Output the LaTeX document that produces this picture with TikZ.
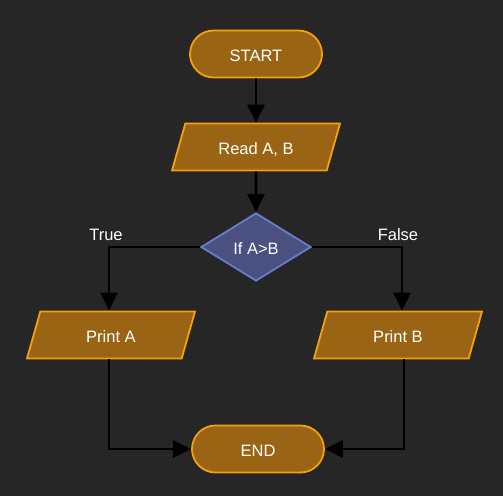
\documentclass[tikz,border=0pt]{standalone}
\usepackage{fontspec}
\setmainfont{Liberation Sans}
\usetikzlibrary{shapes.geometric,arrows.meta}
\definecolor{bg}{HTML}{262626}
\definecolor{procfill}{HTML}{996515}
\definecolor{procline}{HTML}{F5A00F}
\definecolor{decfill}{HTML}{4A5080}
\definecolor{decline}{HTML}{6A7CD0}
\tikzset{
  txt/.style={text=white, font=\fontsize{16.5pt}{19pt}\selectfont},
  shp/.style={txt, text height=15.5pt, text depth=0pt},
  term/.style={shp, draw=procline, fill=procfill, line width=1.8pt, rounded corners=23.5pt,
    minimum width=132pt, minimum height=47pt},
  io/.style={shp, draw=procline, fill=procfill, line width=1.8pt, trapezium, trapezium left angle=59,
    trapezium right angle=121, minimum height=47pt, minimum width=168pt, trapezium stretches body,
    inner xsep=2pt},
  dec/.style={shp, draw=decline, fill=decfill, line width=1.8pt, diamond, minimum width=110pt,
    minimum height=68pt, inner sep=0pt, aspect=1.6},
  conn/.style={line width=2.6pt, draw=black, -{Triangle[length=18pt,width=17pt]}},
  lbl/.style={txt}
}
\begin{document}
\begin{tikzpicture}[x=1pt,y=-1pt]
\fill[bg] (0,0) rectangle (503,496);
\useasboundingbox (0,0) rectangle (503,496);
\node[term] (start) at (256,54) {START};
\node[io] (read) at (256,147) {Read A, B};
\node[dec] (if) at (256,247) {If A>B};
\node[io] (pa) at (111,335) {Print A};
\node[io] (pb) at (398,335) {Print B};
\node[term] (end) at (258,449) {END};
\coordinate (lc) at (109,247);
\coordinate (rc) at (402,247);
\coordinate (lb) at (109,449);
\coordinate (rb) at (404,449);
\draw[conn] (start) -- (read);
\draw[conn] (read) -- (if);
\draw[conn] (if.west) -- (lc) -- (lc |- pa.north);
\draw[conn] (if.east) -- (rc) -- (rc |- pb.north);
\draw[conn] (lb |- pa.south) -- (lb) -- (end.west);
\draw[conn] (rb |- pb.south) -- (rb) -- (end.east);
\node[lbl] (t) at (106,235) {True};
\node[lbl] (f) at (398,235) {False};
\end{tikzpicture}
\end{document}
